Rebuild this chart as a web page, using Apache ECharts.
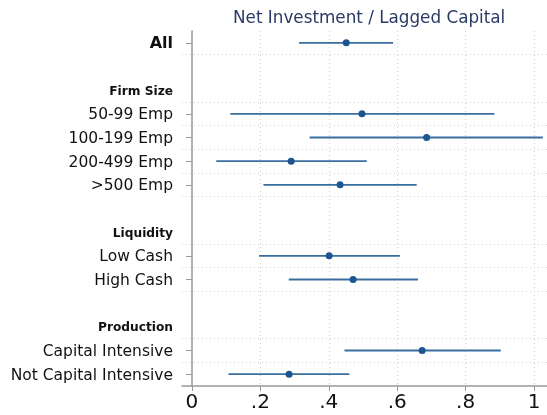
<!DOCTYPE html>
<html>
<head>
<meta charset="utf-8">
<script src="https://cdn.jsdelivr.net/npm/echarts@6/dist/echarts.min.js"></script>
<style>
  html, body { margin: 0; padding: 0; background: #fff; }
  #main { width: 547px; height: 415px; }
</style>
</head>
<body>
<div id="main"></div>
<script>
// rows from top to bottom, blanks are spacer rows
const rowLabels = ['All', ' ', 'Firm Size', '50-99 Emp', '100-199 Emp', '200-499 Emp', '>500 Emp',
  '  ', 'Liquidity', 'Low Cash', 'High Cash', '   ', 'Production', 'Capital Intensive', 'Not Capital Intensive'];
const headings = ['Firm Size', 'Liquidity', 'Production'];

// coefficient estimates and 95% CI
const coefRows = ['All', '50-99 Emp', '100-199 Emp', '200-499 Emp', '>500 Emp',
  'Low Cash', 'High Cash', 'Capital Intensive', 'Not Capital Intensive'];
const estimates = [0.451, 0.497, 0.686, 0.290, 0.433, 0.401, 0.471, 0.673, 0.284];
const ciLow = [0.313, 0.112, 0.344, 0.071, 0.209, 0.196, 0.283, 0.446, 0.107];
const ciHigh = [0.588, 0.884, 1.026, 0.511, 0.657, 0.608, 0.661, 0.903, 0.460];

const xTicks = [0, 0.2, 0.4, 0.6, 0.8, 1];
// boundaries between rows that carry a dotted grid line
const rowBreaks = [1, 3, 4, 5, 6, 7, 9, 10, 11, 13, 14];

const font = 'DejaVu Sans';
const chart = echarts.init(document.getElementById('main'));

const ciData = coefRows.map((r, i) => [ciLow[i], ciHigh[i], rowLabels.indexOf(r)]);
const pointData = coefRows.map((r, i) => [estimates[i], rowLabels.indexOf(r)]);

chart.setOption({
  animation: false,
  title: {
    text: 'Net Investment / Lagged Capital',
    left: 228,
    top: 5,
    textStyle: { fontFamily: font, fontSize: 16.8, fontWeight: 'normal', color: '#2a3a66' }
  },
  grid: { left: 182, right: 0, top: 31, bottom: 29 },
  xAxis: {
    type: 'value',
    min: -0.0292,
    max: 1.038,
    axisLine: { show: true, onZero: false, lineStyle: { color: '#999', width: 1.5 } },
    axisTick: { show: true, length: 5, customValues: xTicks, lineStyle: { color: '#999' } },
    axisLabel: {
      customValues: xTicks,
      margin: 7,
      fontFamily: font, fontSize: 20, color: '#111',
      formatter: v => v === 0 ? '0' : v === 1 ? '1' : String(v).replace(/^0/, '')
    },
    splitLine: { show: true, lineStyle: { color: '#d0d0d0', type: [1, 3], width: 1 } }
  },
  yAxis: [{
    type: 'category',
    inverse: true,
    data: rowLabels,
    axisLine: { show: true, lineStyle: { color: '#999', width: 1.5 } },
    axisTick: {
      show: true, alignWithLabel: true, length: 6,
      interval: (i, v) => coefRows.includes(v),
      lineStyle: { color: '#999' }
    },
    axisLabel: {
      interval: 0,
      margin: 9,
      padding: [3, 0, 0, 0],
      fontFamily: font, fontSize: 15.5, color: '#111',
      formatter: v => headings.includes(v) ? '{h|' + v + '}' : v === 'All' ? '{a|All}' : v.trim(),
      rich: {
        h: { fontFamily: font, fontSize: 12.2, fontWeight: 'bold', color: '#111' },
        a: { fontFamily: font, fontSize: 16, fontWeight: 'bold', color: '#111' }
      }
    },
    splitLine: { show: false }
  }, {
    type: 'value',
    inverse: true,
    min: 0,
    max: rowLabels.length,
    show: false
  }],
  series: [{
    type: 'line',
    yAxisIndex: 1,
    data: [],
    markLine: {
      silent: true,
      symbol: 'none',
      label: { show: false },
      lineStyle: { color: '#d0d0d0', type: [1, 3], width: 1 },
      data: rowBreaks.map(b => ({ yAxis: b }))
    }
  }, {
    type: 'custom',
    data: ciData,
    encode: { x: [0, 1], y: 2 },
    renderItem: (params, api) => {
      const a = api.coord([api.value(0), api.value(2)]);
      const b = api.coord([api.value(1), api.value(2)]);
      return {
        type: 'line',
        shape: { x1: a[0], y1: a[1], x2: b[0], y2: b[1] },
        style: { stroke: '#3a6e9f', lineWidth: 1.8 }
      };
    }
  }, {
    type: 'scatter',
    data: pointData,
    symbolSize: 7,
    itemStyle: { color: '#1d5590', opacity: 1 },
    z: 5
  }]
});
</script>
</body>
</html>
